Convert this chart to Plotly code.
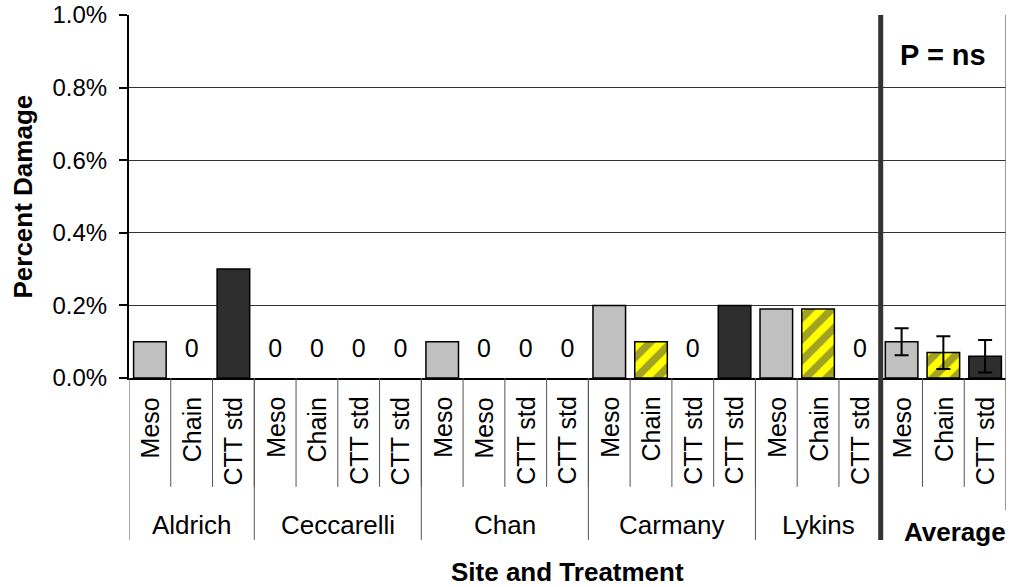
import plotly.graph_objects as go

# site data (percent damage, already in % units)
sites = ["Aldrich", "Ceccarelli", "Chan", "Carmany", "Lykins"]
site_treatments = [
    ["Meso", "Chain", "CTT std"],
    ["Meso", "Chain", "CTT std", "CTT std"],
    ["Meso", "Meso", "CTT std", "CTT std"],
    ["Meso", "Chain", "CTT std", "CTT std"],
    ["Meso", "Chain", "CTT std"],
]
site_values = [
    [0.1, 0.0, 0.3],
    [0.0, 0.0, 0.0, 0.0],
    [0.1, 0.0, 0.0, 0.0],
    [0.2, 0.1, 0.0, 0.2],
    [0.19, 0.19, 0.0],
]

avg_treatments = ["Meso", "Chain", "CTT std"]
avg_values = [0.1, 0.07, 0.06]
avg_errors = [0.037, 0.045, 0.045]

y_ticks = [0.0, 0.2, 0.4, 0.6, 0.8, 1.0]

FONT = "Liberation Sans, Arial, sans-serif"
fill = {"Meso": "#c0c0c0", "Chain": "#ffff00", "CTT std": "#2e2e2e"}
shape = {"Meso": "", "Chain": "/", "CTT std": ""}

# build flat category list with unique ids
cat_ids, cat_labels, cat_vals, cat_trt = [], [], [], []
groups = []  # (label, first index, last index)
for site, trts, vals in zip(sites, site_treatments, site_values):
    start = len(cat_ids)
    for k, (t, v) in enumerate(zip(trts, vals)):
        cat_ids.append(f"{site}|{k}")
        cat_labels.append(t)
        cat_vals.append(v)
        cat_trt.append(t)
    groups.append((site, start, len(cat_ids) - 1))

avg_start = len(cat_ids)
avg_ids = [f"Average|{k}" for k in range(len(avg_treatments))]
all_ids = cat_ids + avg_ids
all_labels = cat_labels + avg_treatments
n = len(all_ids)

fig = go.Figure()

fig.add_trace(go.Bar(
    x=cat_ids, y=cat_vals, width=0.78,
    marker=dict(
        color=[fill[t] for t in cat_trt],
        line=dict(color="black", width=[1.5 if v > 0 else 0 for v in cat_vals]),
        pattern=dict(shape=[shape[t] for t in cat_trt], fgcolor="#2e2e2e",
                     bgcolor=[fill[t] for t in cat_trt], size=15, solidity=0.5),
    ),
    showlegend=False, hoverinfo="x+y",
))

fig.add_trace(go.Bar(
    x=avg_ids, y=avg_values, width=0.78,
    marker=dict(
        color=[fill[t] for t in avg_treatments],
        line=dict(color="black", width=1.5),
        pattern=dict(shape=[shape[t] for t in avg_treatments], fgcolor="#2e2e2e",
                     bgcolor=[fill[t] for t in avg_treatments], size=15, solidity=0.5),
    ),
    error_y=dict(type="data", array=avg_errors, color="black", thickness=2, width=7),
    showlegend=False,
))

# "0" labels over empty bars
zero_x = [c for c, v in zip(cat_ids, cat_vals) if v == 0]
fig.add_trace(go.Scatter(
    x=zero_x, y=[0.074] * len(zero_x), mode="text", text=["0"] * len(zero_x),
    textfont=dict(family=FONT, size=25, color="black"),
    showlegend=False, hoverinfo="skip",
))

shapes = []
annotations = []


def label(x, y, text, size, xref="x", angle=0, yanchor="middle"):
    annotations.append(dict(
        x=x, y=y, xref=xref, yref="paper", text=text, textangle=angle,
        showarrow=False, xanchor="center", yanchor=yanchor,
        font=dict(family=FONT, size=size, color="black"),
    ))


# inner category labels and dividers
for i, lab in enumerate(all_labels):
    label(all_ids[i], -0.047, lab, 25, angle=-90, yanchor="top")
for i in range(1, n):
    shapes.append(dict(type="line", xref="x", yref="paper", x0=i - 0.5, x1=i - 0.5,
                       y0=0, y1=-0.30, line=dict(color="#555", width=1)))

# group labels and long dividers
for site, a, b in groups:
    label((a + b) / 2, -0.405, site, 26)
    shapes.append(dict(type="line", xref="x", yref="paper", x0=a - 0.5, x1=a - 0.5,
                       y0=0, y1=-0.446, line=dict(color="#555", width=1)))

label((avg_start + n - 1) / 2 + 0.27, -0.424, "<b>Average</b>", 26)
label((avg_start + n - 1) / 2, 0.89, "<b>P = ns</b>", 29)

# right border of plot and label block
shapes.append(dict(type="line", xref="x", yref="paper", x0=n - 0.5, x1=n - 0.5,
                   y0=1, y1=-0.364, line=dict(color="#777", width=1.5)))
# thick separator before the averages
shapes.append(dict(type="line", xref="x", yref="paper", x0=avg_start - 0.5, x1=avg_start - 0.5,
                   y0=1, y1=-0.446, line=dict(color="#333", width=5)))

label(-0.122, 0.5, "<b>Percent Damage</b>", 26, xref="paper", angle=-90)
label(0.5, -0.534, "<b>Site and Treatment</b>", 26, xref="paper")

fig.update_layout(
    width=1018, height=587,
    margin=dict(l=129, r=12, t=15, b=209),
    plot_bgcolor="white", paper_bgcolor="white",
    barmode="overlay",
    shapes=shapes, annotations=annotations,
    font=dict(family=FONT, color="black"),
)
fig.update_xaxes(
    type="category", categoryorder="array", categoryarray=all_ids,
    range=[-0.5, n - 0.5], showticklabels=False, ticks="", automargin=False,
    showline=True, linecolor="black", linewidth=2, showgrid=False, zeroline=False,
)
fig.update_yaxes(
    range=[0, 1], tickvals=y_ticks, ticktext=[f"{v:.1f}%" for v in y_ticks],
    ticks="outside", ticklen=8, tickcolor="black", tickwidth=1.5,
    ticklabelstandoff=7, automargin=False, ticklabeloverflow="allow",
    tickfont=dict(family=FONT, size=24, color="black"),
    showline=True, linecolor="black", linewidth=2,
    showgrid=True, gridcolor="#333", gridwidth=1, zeroline=False,
)

# drop the default page margin so the figure fills the window from (0, 0)
fig.write_html(
    "out.html",
    config={"displayModeBar": False},
    post_script="document.body.style.margin='0';document.body.style.overflow='hidden';",
)
